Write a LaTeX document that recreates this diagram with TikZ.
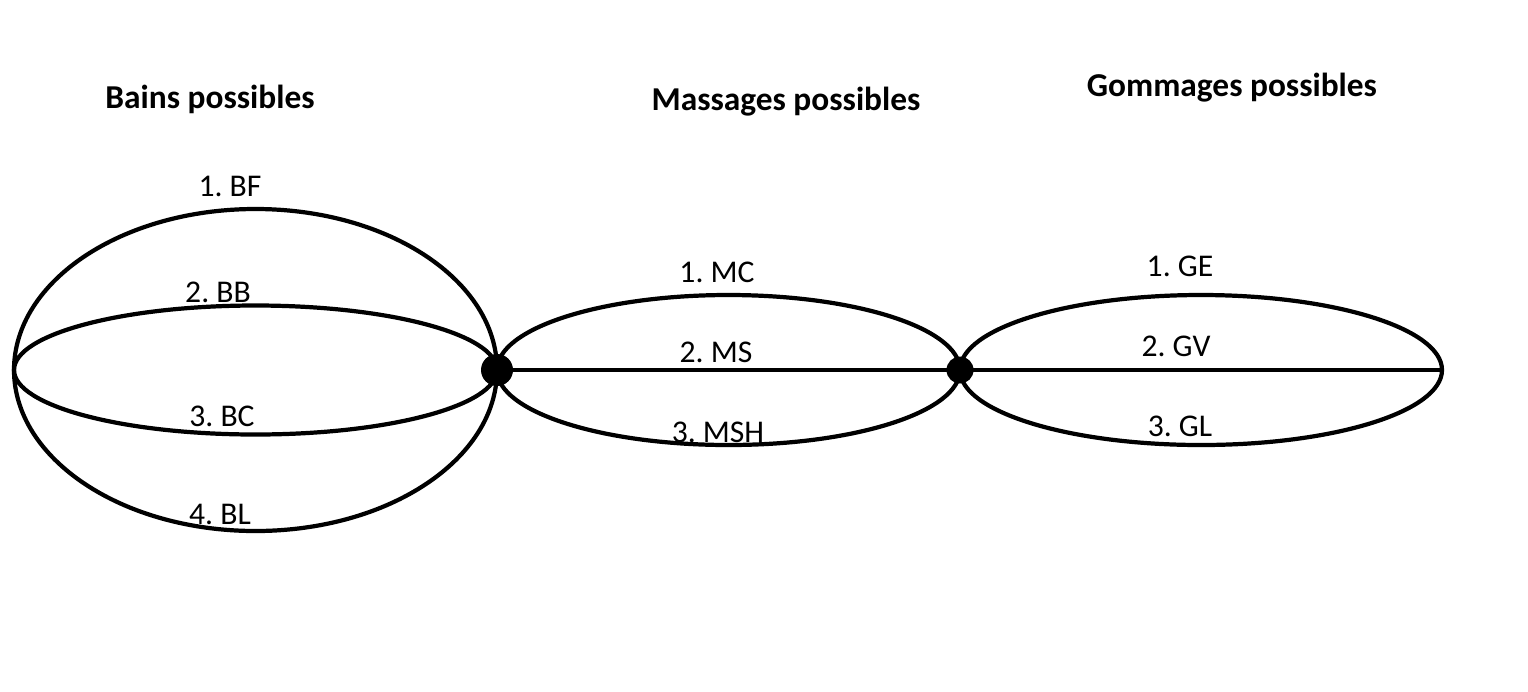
\documentclass[tikz,border=0pt]{standalone}
\usepackage{fontspec}
\setmainfont{Carlito}
\usetikzlibrary{positioning,backgrounds}
\frenchspacing

\begin{document}
\begin{tikzpicture}[x=0.02cm, y=-0.02cm,
    edge/.style={line width=2.4pt},
    junction/.style={circle, fill=black, inner sep=0pt},
    choice/.style={font=\fontsize{18}{20}\selectfont},
    title/.style={font=\fontsize{19}{22}\selectfont\bfseries, anchor=base}
]
\useasboundingbox (0,0) rectangle (1528,691);

% ============================
% Nodes
% ============================
\coordinate (start) at (14,370);
\node[junction, minimum size=0.64cm] (n1) at (497,370) {};
\node[junction, minimum size=0.54cm] (n2) at (960,370) {};
\coordinate (stop) at (1442,370);

% ============================
% Bains possibles
% ============================
\node[title] (tb) at (210,108) {Bains possibles};
\begin{scope}[on background layer]
    \draw[edge] (start) arc[start angle=180, end angle=360, x radius=241.5, y radius=161];
    \draw[edge] (start) arc[start angle=180, end angle=360, x radius=241.5, y radius=64.5];
    \draw[edge] (start) arc[start angle=180, end angle=0, x radius=241.5, y radius=64.5];
    \draw[edge] (start) arc[start angle=180, end angle=0, x radius=241.5, y radius=161];
\end{scope}
\node[choice] (bf) at (230,186) {1. BF};
\node[choice] (bb) at (218,292) {2. BB};
\node[choice] (bc) at (222,416) {3. BC};
\node[choice] (bl) at (220,514) {4. BL};

% ============================
% Massages possibles
% ============================
\node[title] (tm) at (786,110) {Massages possibles};
\begin{scope}[on background layer]
    \draw[edge] (n1.center) arc[start angle=180, end angle=360, x radius=231.5, y radius=75];
    \draw[edge] (n1.center) -- (n2.center);
    \draw[edge] (n1.center) arc[start angle=180, end angle=0, x radius=231.5, y radius=75];
\end{scope}
\node[choice] (mc) at (717,272) {1. MC};
\node[choice] (ms) at (716,352) {2. MS};
\node[choice] (msh) at (718,432) {3. MSH};

% ============================
% Gommages possibles
% ============================
\node[title] (tg) at (1232,96) {Gommages possibles};
\begin{scope}[on background layer]
    \draw[edge] (n2.center) arc[start angle=180, end angle=360, x radius=241, y radius=75];
    \draw[edge] (n2.center) -- (stop);
    \draw[edge] (n2.center) arc[start angle=180, end angle=0, x radius=241, y radius=75];
\end{scope}
\node[choice] (ge) at (1180,266) {1. GE};
\node[choice] (gv) at (1176,346) {2. GV};
\node[choice] (gl) at (1180,426) {3. GL};

\end{tikzpicture}
\end{document}
